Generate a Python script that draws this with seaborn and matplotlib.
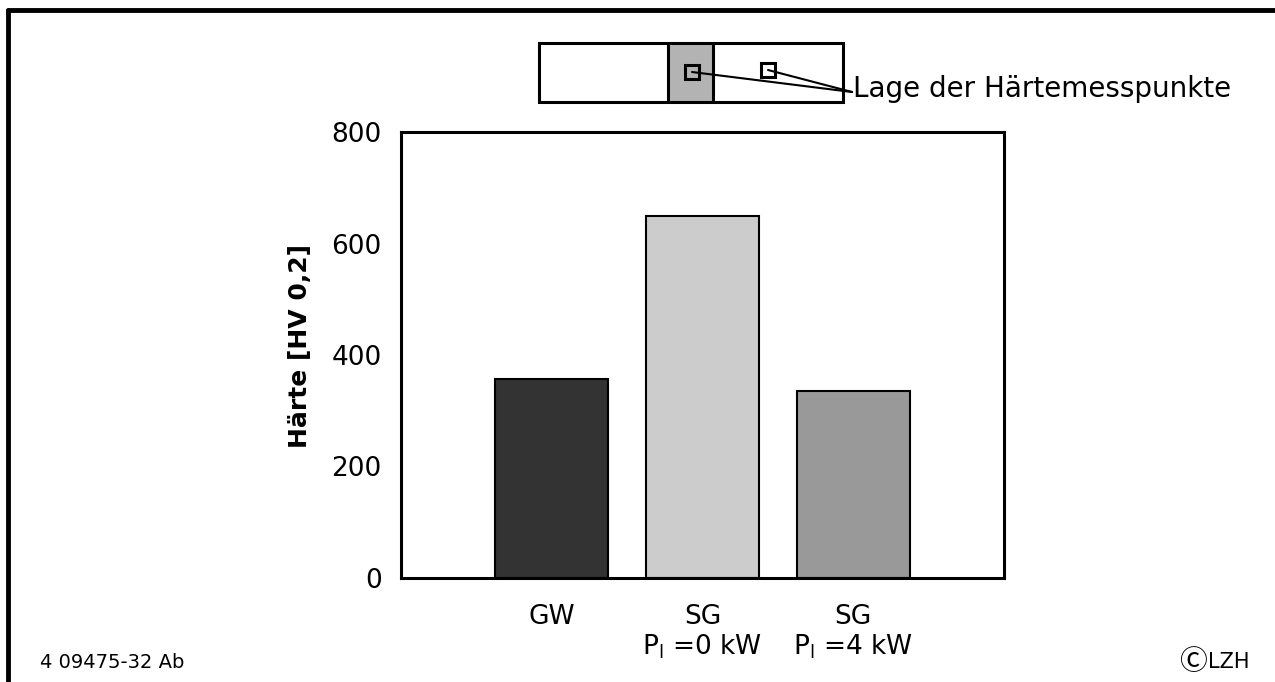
import numpy as np
import pandas as pd
import matplotlib.pyplot as plt
import seaborn as sns
from matplotlib.patches import Rectangle
from matplotlib.lines import Line2D

# Werte
kategorien = ["GW", "SG\nP$_\\mathrm{l}$ =0 kW", "SG\nP$_\\mathrm{l}$ =4 kW"]
haerte = [357, 649, 335]
farben = ["#333333", "#cccccc", "#999999"]
y_ticks = [0, 200, 400, 600, 800]

sns.set_style("white")
plt.rcParams['font.family'] = ['DejaVu Sans', 'Noto Sans CJK JP']
plt.rcParams['text.color'] = 'black'
plt.rcParams['xtick.color'] = 'black'
plt.rcParams['ytick.color'] = 'black'
plt.rcParams['axes.labelcolor'] = 'black'
plt.rcParams['mathtext.fontset'] = 'dejavusans'

W, H = 1275, 682


def fx(px):
    return px / W


def fy(py):
    return 1 - py / H


fig = plt.figure(figsize=(12.75, 6.82), dpi=100)
ax = fig.add_axes([fx(401), fy(578), fx(1004) - fx(401), fy(132) - fy(578)])

df = pd.DataFrame({"kat": kategorien, "haerte": haerte})
sns.barplot(data=df, x="kat", y="haerte", hue="kat", palette=farben,
            width=0.75, edgecolor="black", linewidth=1.5, legend=False, ax=ax)

ax.set_xlim(-1, 3)
ax.set_ylim(0, 800)
ax.set_yticks(y_ticks)
ax.tick_params(axis='y', direction='inout', length=8, width=2, labelsize=19, pad=10)
ax.tick_params(axis='x', length=0, labelsize=19, pad=19)
for lab in ax.get_xticklabels():
    lab.set_linespacing(1.1)
    lab.set_verticalalignment('top')
ax.set_xlabel("")
ax.set_ylabel("Härte [HV 0,2]", fontsize=18, fontweight='bold')
ax.yaxis.set_label_coords(-0.148, 0.521)
for s in ax.spines.values():
    s.set_visible(True)
    s.set_color("black")
    s.set_linewidth(2.2)

# Rahmen oben und links
tf = fig.transFigure
fig.add_artist(Line2D([fx(8), fx(8)], [fy(10), 0], color="black", lw=3.5, transform=tf))
fig.add_artist(Line2D([fx(8), 1], [fy(10), fy(10)], color="black", lw=3.5, transform=tf))

# Skizze der Probe
fig.add_artist(Rectangle((fx(668), fy(102)), fx(713) - fx(668), fy(43) - fy(102),
                         facecolor="#b3b3b3", edgecolor="none", transform=tf))
fig.add_artist(Rectangle((fx(539), fy(102)), fx(843) - fx(539), fy(43) - fy(102),
                         facecolor="none", edgecolor="black", lw=2.2, transform=tf))
for xv in [668, 713]:
    fig.add_artist(Line2D([fx(xv), fx(xv)], [fy(43), fy(102)], color="black", lw=2.2, transform=tf))
for cx, cy in [(692, 72), (768, 70)]:
    fig.add_artist(Rectangle((fx(cx - 7), fy(cy + 7)), fx(14), fy(0) - fy(14),
                             facecolor="none", edgecolor="black", lw=2.2, transform=tf))
    fig.add_artist(Line2D([fx(cx), fx(852)], [fy(cy), fy(92)], color="black", lw=1.5, transform=tf))
fig.text(fx(853), fy(89), "Lage der Härtemesspunkte", fontsize=20, va="center", ha="left")

fig.text(fx(40), fy(662), "4 09475-32 Ab", fontsize=14, va="center", ha="left")
fig.text(fx(1207), fy(662), "Ⓒ", fontsize=20, va="center", ha="right",
         family=['Noto Sans CJK JP', 'DejaVu Sans'])
fig.text(fx(1250), fy(662), "LZH", fontsize=15, va="center", ha="right")

fig.savefig("out.png", dpi=100)
